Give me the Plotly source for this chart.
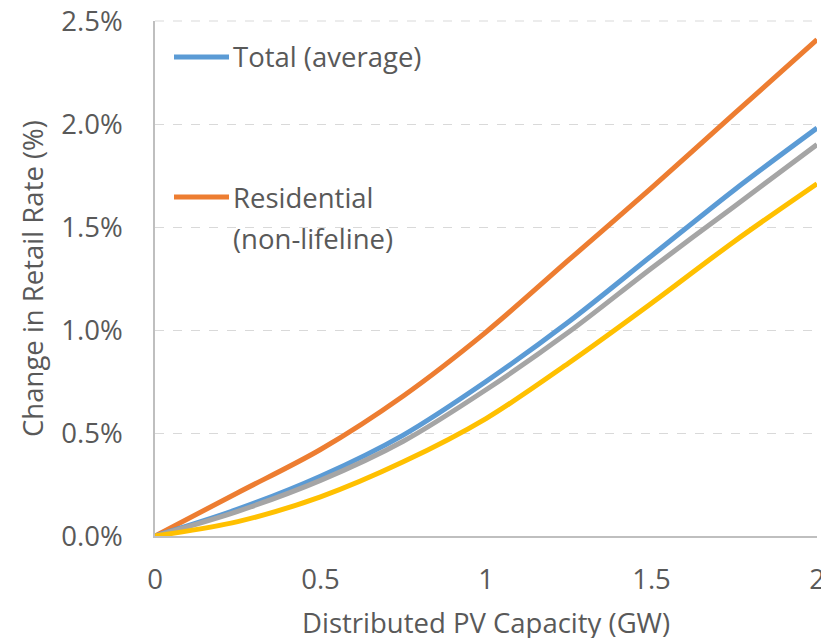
import plotly.graph_objects as go

capacity_gw = [0, 0.25, 0.5, 0.75, 1.0, 1.25, 1.5, 1.75, 2.0]
residential = [0, 0.21, 0.42, 0.68, 0.99, 1.34, 1.69, 2.05, 2.41]
total_avg = [0, 0.13, 0.29, 0.49, 0.75, 1.04, 1.36, 1.68, 1.98]
series_gray = [0, 0.12, 0.27, 0.46, 0.71, 0.99, 1.30, 1.60, 1.90]
series_yellow = [0, 0.07, 0.19, 0.36, 0.57, 0.84, 1.13, 1.43, 1.71]

y_ticks = [0, 0.5, 1.0, 1.5, 2.0, 2.5]
y_tick_labels = ["0.0%", "0.5%", "1.0%", "1.5%", "2.0%", "2.5%"]
x_ticks = [0, 0.5, 1, 1.5, 2]
x_tick_labels = ["0", "0.5", "1", "1.5", "2"]

FONT = "Open Sans"
TXT = "#595959"
FS = 27.5

fig = go.Figure()
for name, vals, col in [
    ("Residential (non-lifeline)", residential, "#ED7D31"),
    ("Total (average)", total_avg, "#5B9BD5"),
    ("Series 3", series_gray, "#A5A5A5"),
    ("Series 4", series_yellow, "#FFC000"),
]:
    fig.add_trace(go.Scatter(
        x=capacity_gw, y=vals, mode="lines", name=name,
        line=dict(color=col, width=5, shape="spline", smoothing=0.9),
        showlegend=False, cliponaxis=True,
    ))

# top gridline (plotly omits gridlines on the plot edge)
fig.add_shape(type="line", xref="paper", yref="paper", x0=0, x1=1,
              y0=1, y1=1, layer="below",
              line=dict(color="#D9D9D9", width=1.2, dash="dash"))

# legend keys and labels
fig.add_shape(type="line", xref="paper", yref="paper",
              x0=(174 - 155) / 662, x1=(229 - 155) / 662,
              y0=(536 - 57) / 515, y1=(536 - 57) / 515,
              line=dict(color="#5B9BD5", width=5))
fig.add_shape(type="line", xref="paper", yref="paper",
              x0=(174 - 155) / 662, x1=(229 - 155) / 662,
              y0=(536 - 197) / 515, y1=(536 - 197) / 515,
              line=dict(color="#ED7D31", width=5))
for txt, yy in [("Total (average)", 57), ("Residential", 197), ("(non-lifeline)", 238)]:
    fig.add_annotation(xref="paper", yref="paper", x=(231 - 155) / 662,
                       y=(536 - yy) / 515, text=txt, showarrow=False,
                       xanchor="left", yanchor="middle",
                       font=dict(family=FONT, size=FS, color=TXT))

# x-axis title placed as an annotation so it can sit at the very bottom edge
fig.add_annotation(xref="paper", yref="paper", x=(486 - 155) / 662,
                   y=(536 - 622) / 515, text="Distributed PV Capacity (GW)",
                   showarrow=False, xanchor="center", yanchor="middle",
                   font=dict(family=FONT, size=FS, color=TXT))

fig.update_layout(
    width=821, height=630,
    margin=dict(l=147, r=12, t=13, b=102, autoexpand=False),
    paper_bgcolor="white", plot_bgcolor="white",
    font=dict(family=FONT, size=FS, color=TXT),
)
fig.update_xaxes(
    range=[0, 2], tickvals=x_ticks, ticktext=x_tick_labels,
    showgrid=False, showline=True, linecolor="#BFBFBF", linewidth=1.5,
    zeroline=False, ticks="", ticklabelstandoff=18, automargin=False,
    ticklabeloverflow="allow",
    tickfont=dict(family=FONT, size=FS, color=TXT),
)
fig.update_yaxes(
    range=[0, 2.5], tickvals=y_ticks, ticktext=y_tick_labels,
    showgrid=True, gridcolor="#D9D9D9", griddash="dash", gridwidth=1.2,
    showline=True, linecolor="#BFBFBF", linewidth=1.5,
    zeroline=False, ticks="", ticklabelstandoff=25, automargin=False,
    ticklabeloverflow="allow",
    title=dict(text="Change in Retail Rate (%)", standoff=10,
               font=dict(family=FONT, size=FS, color=TXT)),
    tickfont=dict(family=FONT, size=FS, color=TXT),
)

fig.write_html("out.html")
